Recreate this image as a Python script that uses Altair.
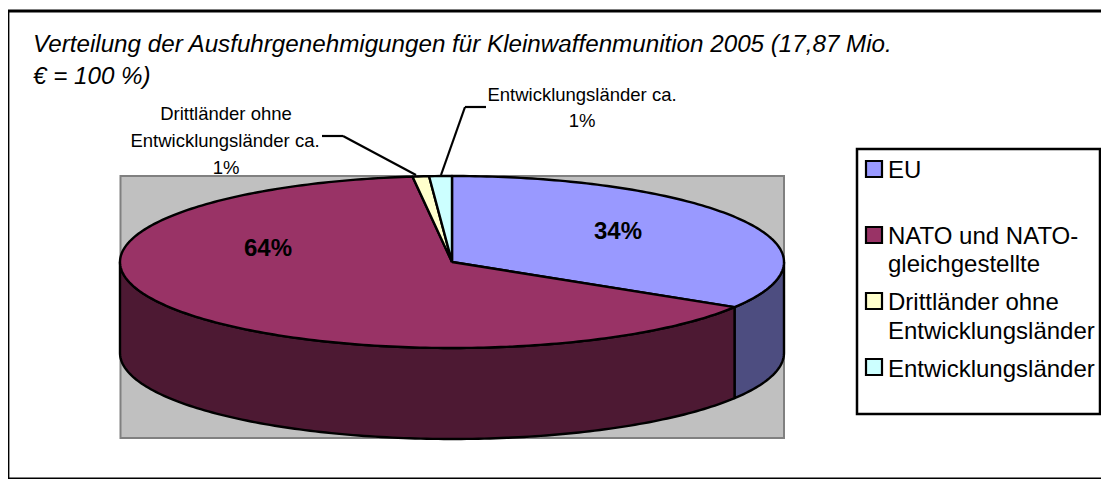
import math
import altair as alt
import pandas as pd

CATEGORIES = ["EU", "NATO und NATO-gleichgestellte", "Drittländer ohne Entwicklungsländer", "Entwicklungsländer"]
SHARES = [33.8, 64.3, 0.8, 1.1]
TOP_COLORS = ["#9999FF", "#993366", "#FFFFCC", "#CCFFFF"]
SIDE_COLORS = ["#4D4D80", "#4D1933", "#808066", "#668080"]
PAGE = 8
FONT = "Liberation Sans"

# pixel layout (page coordinates)
CX, CY, RX, RY, DEPTH = 452, 262, 332, 86, 91
def px(v): return v - PAGE

x_scale = alt.Scale(domain=[-1, 1], range=[px(CX - RX), px(CX + RX)], nice=False, zero=False)
y_scale = alt.Scale(domain=[-1, 1], range=[px(CY + RY), px(CY - RY)], nice=False, zero=False)
DROP = DEPTH / RY

def ell(t, dy=0.0):
    a = math.radians(t)
    return (math.sin(a), math.cos(a) - dy)

def arc(t0, t1, dy=0.0):
    n = max(2, int(abs(t1 - t0)) + 2)
    return [ell(t0 + (t1 - t0) * i / (n - 1), dy) for i in range(n)]

def poly(points, fill):
    df = pd.DataFrame({"x": [p[0] for p in points], "y": [p[1] for p in points], "i": range(len(points))})
    return alt.Chart(df).mark_line(fill=fill, stroke="black", strokeWidth=2.4, strokeJoin="round").encode(
        x=alt.X("x:Q", scale=x_scale, axis=None),
        y=alt.Y("y:Q", scale=y_scale, axis=None),
        order="i:Q",
    )

def box(x0, y0, x1, y1, fill, stroke, sw):
    return alt.Chart(pd.DataFrame({"a": [0]})).mark_rect(fill=fill, stroke=stroke, strokeWidth=sw).encode(
        x=alt.value(px(x0)), x2=alt.value(px(x1)), y=alt.value(px(y0)), y2=alt.value(px(y1)))

def label(text, x, y, size, align="left", weight="normal", style="normal"):
    return alt.Chart(pd.DataFrame({"t": [text]})).mark_text(
        font=FONT, fontSize=size, align=align, baseline="alphabetic", fontWeight=weight, fontStyle=style, color="black"
    ).encode(x=alt.value(px(x)), y=alt.value(px(y)), text="t:N")

def leader(points):
    layers = []
    for (x0, y0), (x1, y1) in zip(points, points[1:]):
        layers.append(alt.Chart(pd.DataFrame({"a": [0]})).mark_rule(color="black", strokeWidth=2.2).encode(
            x=alt.value(px(x0)), x2=alt.value(px(x1)), y=alt.value(px(y0)), y2=alt.value(px(y1))))
    return layers

layers = [
    box(8, 11, 1120, 479, "white", "black", 2.8),
    box(120.5, 176, 784, 438, "#C0C0C0", "#808080", 2),
]

# slice angles
edges = [0]
for s in SHARES:
    edges.append(edges[-1] + s * 3.6)

# visible side walls (front half: 90..270 degrees)
for i, (a, b) in enumerate(zip(edges, edges[1:])):
    t0, t1 = max(a, 90), min(b, 270)
    if t1 > t0:
        layers.append(poly(arc(t0, t1) + arc(t1, t0, DROP) + [ell(t0)], SIDE_COLORS[i]))
# top faces
for i, (a, b) in enumerate(zip(edges, edges[1:])):
    layers.append(poly([(0, 0)] + arc(a, b) + [(0, 0)], TOP_COLORS[i]))

layers += leader([(322, 136), (343, 136), (416, 175)])
layers += leader([(486, 107), (465, 107), (441, 175)])

# data labels
layers += [
    label("Drittländer ohne", 226, 120, 18.5, "center"),
    label("Entwicklungsländer ca.", 225, 147, 18.5, "center"),
    label("1%", 226, 174, 18.5, "center"),
    label("Entwicklungsländer ca.", 582, 101, 18.5, "center"),
    label("1%", 582, 127, 18.5, "center"),
    label("64%", 268, 256, 24, "center", "bold"),
    label("34%", 618, 239, 24, "center", "bold"),
]

# title
layers += [
    label("Verteilung der Ausfuhrgenehmigungen für Kleinwaffenmunition 2005 (17,87 Mio.", 33, 52, 24.2, style="italic"),
    label("€ = 100 %)", 33, 84, 24.2, style="italic"),
]

# legend
layers.append(box(857, 149, 1100, 414, "white", "black", 2.5))
SWATCH_Y = [169, 235, 301, 367]
for c, yc in zip(TOP_COLORS, SWATCH_Y):
    layers.append(box(866, yc - 8, 882, yc + 8, c, "black", 2.2))
LEGEND_LINES = [("EU", 178), ("NATO und NATO-", 244), ("gleichgestellte", 272),
                ("Drittländer ohne", 310), ("Entwicklungsländer", 339), ("Entwicklungsländer", 377)]
for t, y in LEGEND_LINES:
    layers.append(label(t, 888, y, 24))

chart = alt.layer(*layers).properties(
    width=1093, height=471, padding=0, autosize=alt.AutoSizeParams(type="none"),
    background="white",
).configure_view(stroke=None)

chart.save("out.html", embed_options={"renderer": "svg", "actions": False})
